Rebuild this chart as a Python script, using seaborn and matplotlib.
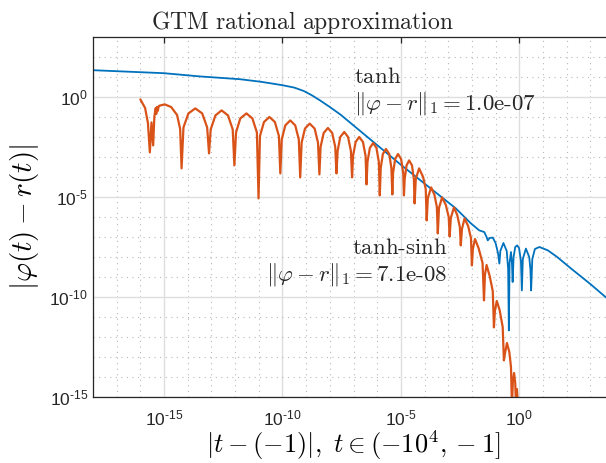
import numpy as np
import pandas as pd
import matplotlib
matplotlib.use('Agg')
import matplotlib.pyplot as plt
from matplotlib.ticker import LogLocator, FuncFormatter, NullFormatter
import seaborn as sns

# values, stored as log10 exponents
# tanh error curve (blue)
tanh_log_t = [-18.0, -17.0, -16.0, -15.0, -13.5, -11.8, -10.9, -10.0, -9.5, -9.1,
              -8.75, -8.4, -8.0, -7.55, -5.0, -2.68, -2.06, -1.69, -1.48, -1.38,
              -1.33, -1.25, -1.12, -1.0, -0.9, -0.84, -0.80, -0.67, -0.53, -0.47,
              -0.44, -0.41, -0.35, -0.31, -0.28, -0.24, -0.17, -0.09, -0.01, 0.07,
              0.11, 0.15, 0.28, 0.42, 0.47, 0.50, 0.55, 0.66, 0.85, 1.21,
              1.6, 2.19, 3.0, 3.72, 4.0]
tanh_log_err = [1.34, 1.29, 1.24, 1.19, 1.03, 0.89, 0.76, 0.59, 0.47, 0.30,
                0.08, -0.18, -0.50, -0.88, -3.39, -5.57, -6.3, -6.67, -6.75, -7.0,
                -7.17, -7.05, -7.03, -7.3, -7.8, -8.33, -7.7, -7.3, -7.7, -8.6,
                -11.67, -8.3, -7.75, -8.3, -9.25, -8.0, -7.5, -7.42, -7.55, -8.2,
                -9.67, -8.1, -7.58, -8.0, -8.6, -9.67, -8.1, -7.6, -7.5, -7.67,
                -8.0, -8.58, -9.35, -10.08, -10.35]

# tanh-sinh error curve (red)
ts_log_t = [-16.00, -15.80, -15.68, -15.60, -15.53, -15.46, -15.41, -15.38, -15.35, -15.33,
            -15.30, -15.27, -15.22, -15.15, -14.97, -14.70, -14.45, -14.32, -14.26,
            -14.18, -13.97, -13.68, -13.39, -13.18, -13.10,
            -13.03, -12.83, -12.57, -12.30, -12.10, -12.03,
            -11.96, -11.78, -11.52, -11.27, -11.08, -11.01,
            -10.95, -10.78, -10.55, -10.32, -10.15, -10.09,
            -10.03, -9.88, -9.67, -9.46, -9.31, -9.25,
            -9.19, -9.05, -8.85, -8.64, -8.50, -8.44,
            -8.39, -8.26, -8.08, -7.90, -7.77, -7.72,
            -7.67, -7.56, -7.39, -7.23, -7.11, -7.06,
            -7.02, -6.91, -6.76, -6.60, -6.49, -6.45,
            -6.41, -6.31, -6.17, -6.03, -5.93, -5.89,
            -5.85, -5.76, -5.63, -5.49, -5.40, -5.36,
            -5.33, -5.24, -5.12, -4.99, -4.90, -4.87,
            -4.84, -4.76, -4.65, -4.53, -4.45, -4.42,
            -4.37, -4.23, -4.06, -3.95, -3.91,
            -3.86, -3.72, -3.58, -3.48, -3.44,
            -3.39, -3.26, -3.10, -2.98, -2.94,
            -2.89, -2.76, -2.62, -2.51, -2.47,
            -2.42, -2.31, -2.16, -2.04, -2.00,
            -1.96, -1.87, -1.72, -1.55, -1.49,
            -1.45, -1.38, -1.25, -1.12, -1.07,
            -1.03, -0.95, -0.83, -0.70, -0.65,
            -0.60, -0.52, -0.42, -0.35, -0.31,
            -0.27, -0.22, -0.17, -0.14, -0.10, -0.05]
ts_log_err = [-0.12, -0.55, -1.3, -2.77, -1.27, -2.42, -1.0, -0.75, -0.55, -0.85,
              -0.5, -0.7, -0.45, -0.42, -0.37, -0.5, -0.9, -1.6, -3.57,
              -1.52, -0.82, -0.57, -0.82, -1.52, -2.82,
              -1.62, -0.92, -0.67, -0.92, -1.62, -3.42,
              -1.77, -1.07, -0.82, -1.07, -1.77, -5.07,
              -1.95, -1.25, -1.0, -1.25, -1.95, -3.82,
              -2.12, -1.42, -1.17, -1.42, -2.12, -4.02,
              -2.28, -1.58, -1.33, -1.58, -2.28, -3.87,
              -2.5, -1.8, -1.55, -1.8, -2.5, -3.82,
              -2.7, -2.0, -1.75, -2.0, -2.7, -4.02,
              -2.95, -2.25, -2.0, -2.25, -2.95, -4.37,
              -3.25, -2.55, -2.3, -2.55, -3.25, -4.92,
              -3.55, -2.85, -2.6, -2.85, -3.55, -4.87,
              -3.8, -3.1, -2.85, -3.1, -3.8, -4.92,
              -4.12, -3.42, -3.17, -3.42, -4.12, -5.32,
              -4.1, -3.57, -4.0, -4.6, -6.17,
              -5.05, -4.52, -4.9, -5.5, -6.82,
              -5.55, -5.02, -5.4, -6.0, -6.97,
              -6.05, -5.52, -5.9, -6.5, -7.42,
              -6.6, -6.07, -6.45, -7.05, -8.42,
              -7.6, -7.1, -7.55, -8.3, -10.17,
              -8.9, -8.4, -8.95, -9.7, -11.52,
              -10.7, -10.2, -10.65, -11.5, -13.17,
              -12.8, -12.3, -12.75, -13.5, -15.5,
              -14.2, -13.8, -14.3, -15.5, -14.6, -15.5]

x_lim_exp = [-18, 4]
y_lim_exp = [-15, 3]
major_exp = [-15, -10, -5, 0]

blue = '#0072BD'
orange = '#D95319'

df_tanh = pd.DataFrame({'t': 10.0 ** np.array(tanh_log_t), 'err': 10.0 ** np.array(tanh_log_err)})
df_ts = pd.DataFrame({'t': 10.0 ** np.array(ts_log_t), 'err': 10.0 ** np.array(ts_log_err)})


def pow_label(val, pos):
    # MATLAB style labels: 10 with a short hyphen in the exponent
    e = int(round(np.log10(val)))
    s = str(e).replace('-', '\u2010')
    return r'$\mathdefault{10^{%s}}$' % s


sns.set_style('white')
plt.rcParams['font.family'] = ['Liberation Sans', 'DejaVu Sans']
plt.rcParams['mathtext.fontset'] = 'cm'

fig = plt.figure(figsize=(6.06, 4.63), dpi=100)
ax = fig.add_axes([93 / 606, 66 / 463, 521 / 606, 360 / 463])

sns.lineplot(data=df_tanh, x='t', y='err', ax=ax, color=blue, lw=1.3,
             sort=False, estimator=None)
sns.lineplot(data=df_ts, x='t', y='err', ax=ax, color=orange, lw=1.6,
             sort=False, estimator=None)

ax.set_xscale('log')
ax.set_yscale('log')
ax.set_xlim(10.0 ** x_lim_exp[0], 10.0 ** x_lim_exp[1])
ax.set_ylim(10.0 ** y_lim_exp[0], 10.0 ** y_lim_exp[1])

majors = [10.0 ** e for e in major_exp]
ax.xaxis.set_major_locator(plt.FixedLocator(majors))
ax.yaxis.set_major_locator(plt.FixedLocator(majors))
ax.xaxis.set_major_formatter(FuncFormatter(pow_label))
ax.yaxis.set_major_formatter(FuncFormatter(pow_label))
ax.xaxis.set_minor_locator(LogLocator(base=10, subs=[1.0], numticks=40))
ax.yaxis.set_minor_locator(LogLocator(base=10, subs=[1.0], numticks=40))
ax.xaxis.set_minor_formatter(NullFormatter())
ax.yaxis.set_minor_formatter(NullFormatter())

ax.grid(which='major', color='#dedede', lw=1.0, ls='-')
ax.grid(which='minor', color='#b8b8b8', lw=0.8, ls=(0, (1, 4)))
ax.set_axisbelow(True)

ax.tick_params(which='both', direction='in', top=True, right=False,
               colors='#262626', labelsize=12.5)
ax.tick_params(which='major', length=4, width=0.9)
ax.tick_params(axis='x', which='major', pad=8)
ax.tick_params(axis='y', which='minor', length=3, width=0.7)
ax.tick_params(axis='x', which='minor', length=0)
for side in ['left', 'bottom', 'top']:
    ax.spines[side].set_color('#262626')
    ax.spines[side].set_linewidth(0.9)

ax.set_xlabel(r'$|t-(-1)|,\ t\in(-10^4,-1]$', fontsize=19, color='black', labelpad=0)
ax.set_ylabel(r'$|\varphi(t)-r(t)|$', fontsize=21, color='black', labelpad=6)
ax.set_title(r'$\mathrm{GTM\ rational\ approximation}$', fontsize=17,
             x=(302 - 93) / 521, pad=6)

ax.text(10.0 ** -7.0, 10.0 ** 0.68, r'$\mathrm{tanh}$', fontsize=16.5,
        ha='left', va='baseline')
ax.text(10.0 ** -7.0, 10.0 ** -0.62, r'$\Vert\varphi-r\Vert_1=\text{1.0e-07}$',
        fontsize=16.5, ha='left', va='baseline')
ax.text(10.0 ** -3.03, 10.0 ** -7.87, r'$\text{tanh-sinh}$', fontsize=16.5,
        ha='right', va='baseline')
ax.text(10.0 ** -3.03, 10.0 ** -9.17, r'$\Vert\varphi-r\Vert_1=\text{7.1e-08}$',
        fontsize=16.5, ha='right', va='baseline')

fig.savefig('out.png', dpi=100)
